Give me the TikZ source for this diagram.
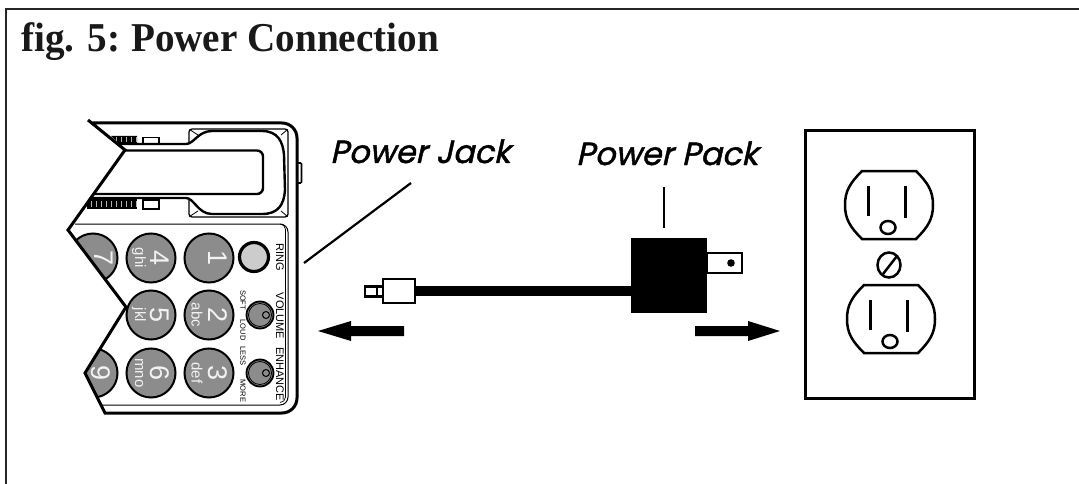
\documentclass[tikz,border=0pt]{standalone}
\usepackage{fontspec}
\setmainfont{Liberation Serif}
\setsansfont{Liberation Sans}
\newfontfamily\lblfont[FakeSlant=0.22,FakeBold=1.4]{Poppins}
\newfontfamily\titlefont[FakeStretch=0.955]{Liberation Serif Bold}
\usetikzlibrary{calc}
\definecolor{keygrey}{gray}{0.55}
\definecolor{ringgrey}{gray}{0.8}
\tikzset{
 keycap/.style={circle,draw=black,line width=2pt,fill=keygrey,minimum size=49pt,inner sep=0pt},
 keytxt/.style={rotate=-90,text=white!95!black,font=\sffamily,align=center},
 bigdigit/.style={keytxt,font=\sffamily\fontsize{27}{27}\selectfont},
 keyletters/.style={keytxt,font=\sffamily\fontsize{15}{15}\selectfont},
 small/.style={rotate=-90,inner sep=0pt,font=\sffamily\fontsize{11}{11}\selectfont},
 tiny/.style={rotate=-90,inner sep=0pt,font=\sffamily\fontsize{7.5}{7.5}\selectfont},
 callout/.style={font=\lblfont\fontsize{32}{32}\selectfont,inner sep=0pt},
 sline/.style={line width=2.2pt},
 knob/.style={circle,draw=black,line width=1.8pt,fill=keygrey,minimum size=27pt,inner sep=0pt},
}
\begin{document}
\begin{tikzpicture}[x=1pt,y=-1pt]
\useasboundingbox (0,0) rectangle (1079,484);
\fill[white] (0,0) rectangle (1079,484);
% phone inner panel
\draw[line width=1pt] (75,224) -- (280,224) arc[start angle=-90,end angle=0,radius=8] -- (288,397) arc[start angle=0,end angle=90,radius=8] -- (98,405);
\draw[line width=0.7pt] (280,224) arc[start angle=-90,end angle=0,radius=5.5] -- (285.5,397) arc[start angle=0,end angle=90,radius=5.5];
% keys
\begin{scope}
\clip (68,230) -- (126,307) -- (85,373) -- (105,413) -- (300,413) -- (300,220) -- (72,220) -- cycle;
\node[keycap] (k7) at (93,258) {};
\node[keycap] (k9) at (93,373) {};
\node[bigdigit] (t7) at (104,258) {7};
\node[bigdigit] (t9) at (101,373) {9};
\end{scope}
\foreach \n/\xx/\yy in {k1/209/258,k2/209/315,k3/209/373,k4/151/258,k5/151/315,k6/151/373}{
 \node[keycap] (\n) at (\xx,\yy) {};
}
\node[bigdigit] (t1) at (218,258) {1};
\node[bigdigit] (t2) at (218,315) {2};
\node[bigdigit] (t3) at (218,373) {3};
\node[bigdigit] (t4) at (160,258) {4};
\node[bigdigit] (t5) at (160,315) {5};
\node[bigdigit] (t6) at (160,373) {6};
\node[keyletters] (s2) at (197,315) {abc};
\node[keyletters] (s3) at (197,373) {def};
\node[keyletters] (s4) at (139,258) {ghi};
\node[keyletters] (s5) at (139,315) {jkl};
\node[keyletters] (s6) at (139,373) {mno};
% ring, knobs
\node[circle,draw=black,line width=3.2pt,fill=ringgrey,minimum size=29pt,inner sep=0pt] (ring) at (254,257) {};
\node[knob] (vol) at (260,315) {};
\node[knob] (enh) at (260,373) {};
\draw[line width=0.8pt] (260,315) circle[radius=11.5];
\draw[line width=0.8pt] (260,373) circle[radius=11.5];
\draw[line width=1pt] (266,315) circle[radius=3.5];
\draw[line width=1pt] (266,373) circle[radius=3.5];
\node[small] (lring) at (280,257) {RING};
\node[small] (lvol) at (280,316) {VOLUME};
\node[small] (lenh) at (280,374) {ENHANCE};
\node[tiny] (soft) at (243,300) {SOFT};
\node[tiny] (loud) at (243,330) {LOUD};
\node[tiny] (less) at (243,356) {LESS};
\node[tiny] (more) at (243,391) {MORE};
% top of phone: teeth and slots
\fill[black] (111,136) -- (137,136) -- (137,144) -- (119,144) -- cycle;
\foreach \xx in {116,121,...,136}{\draw[white!70!black,line width=0.5pt] (\xx,137) -- (\xx,142);}
\fill[black] (87,199) -- (137,199) -- (137,209) -- (87,209) -- cycle;
\foreach \xx in {91,96,...,136}{\draw[white!70!black,line width=0.5pt] (\xx,201) -- (\xx,207);}
\draw[line width=1.6pt] (143,137.5) rectangle (159,144);
\draw[line width=1.6pt] (143,200) rectangle (159,209);
% handset cradle
\draw[line width=1.3pt,rounded corners=3pt] (189,144) -- (189,129) -- (288,129) -- (288,217) -- (189,217) -- (189,200);
\draw[line width=0.8pt] (189.5,129.5) -- (198,135);
\draw[line width=0.8pt] (287.5,129.5) -- (281,135);
\draw[line width=0.8pt] (189.5,216.5) -- (198,211);
\draw[line width=0.8pt] (287.5,216.5) -- (281,211);
% handset
\draw[line width=2.4pt,fill=white] (116,144) -- (186,144) .. controls (194,144) and (198,131) .. (212,131) -- (262,131) .. controls (278,131) and (283,142) .. (284,155) -- (285,190) .. controls (284,205) and (278,214) .. (262,214) -- (212,214) .. controls (198,214) and (194,198) .. (186,198) -- (90,198);
\draw[line width=2.4pt,fill=white] (125,150.5) -- (257,150.5) arc[start angle=-90,end angle=0,radius=6] -- (263,188) arc[start angle=0,end angle=90,radius=6] -- (90,194);
% white mask left of the zigzag
\fill[white] (8,110) -- (88,120) -- (125,150) -- (68,230) -- (126,307) -- (85,373) -- (105,413) -- (8,420) -- cycle;
% phone outline
\draw[line width=3pt,line join=miter] (88,120) -- (125,150) -- (68,230) -- (126,307) -- (85,373) -- (105,413) -- (282,413) arc[start angle=90,end angle=0,radius=15] -- (297,138) arc[start angle=0,end angle=-90,radius=15] -- (282,123) -- (91,123);
\draw[line width=1.6pt,rounded corners=1pt] (297,163) -- (301.5,163) -- (301.5,183) -- (297,183);
% frame
\draw[line width=2pt,draw=black!85] (5.5,484) -- (5.5,9) -- (1079,9);
% title
\node[anchor=base west,inner sep=0pt,font=\titlefont\fontsize{41}{41}\selectfont,text=black!90] (title) at (21,52) {fig. 5:\kern-2pt{} Power Connection};
% power jack
\node[callout,anchor=base west] (pj) at (330,163) {Power Jack};
\coordinate (pjA) at (411,183);
\coordinate (pjB) at (304,263);
\draw[sline] (pjA) -- (pjB);
% power pack
\node[callout,anchor=base west] (pp) at (576,165) {Power Pack};
\coordinate (ppA) at (664,187);
\coordinate (ppB) at (664,228);
\draw[sline] (ppA) -- (ppB);
\node[fill=black,minimum width=76pt,minimum height=75pt,inner sep=0pt] (pack) at (669,275.5) {};
\node[draw=black,line width=2.4pt,fill=white,minimum width=35pt,minimum height=20pt,inner sep=0pt,anchor=west] (prong) at (706,263) {};
\fill (731,263) circle[radius=3.8];
% cord
\node[draw=black,line width=2.4pt,fill=white,minimum width=32pt,minimum height=24pt,inner sep=0pt] (plug) at (399,291) {};
\node[draw=black,line width=2.2pt,fill=white,minimum width=18pt,minimum height=10pt,inner sep=0pt] (tip) at (374,291.5) {};
\draw[line width=2pt] (377,287) -- (377,296);
\draw[line width=10pt] (plug.east) -- (pack.west |- plug.east);
% arrows
\fill (404,326) -- (351,326) -- (351,321) -- (318,331) -- (351,341) -- (351,336) -- (404,336) -- cycle;
\fill (695,326) -- (748,326) -- (748,321) -- (780,331) -- (748,341) -- (748,336) -- (695,336) -- cycle;
% outlet
\draw[line width=3pt] (805,131) rectangle (974,398);
\foreach \dx/\dy in {0/0,2/114}{
 \begin{scope}[shift={(\dx,\dy)}]
 \draw[line width=2.5pt] (862,171) -- (916,171) .. controls (928,183) and (933,191) .. (933,205) .. controls (933,219) and (928,227) .. (916,239) -- (862,239) .. controls (850,227) and (845,219) .. (845,205) .. controls (845,191) and (850,183) .. (862,171) -- cycle;
 \draw[line width=3.3pt] (868.5,186) -- (868.5,216);
 \draw[line width=3.3pt] (905.5,186) -- (905.5,218);
 \draw[line width=2.5pt] (888,227.5) ellipse[x radius=7.5,y radius=6.5];
 \end{scope}
}
\draw[line width=2.5pt] (889,265) ellipse[x radius=11.5,y radius=12.5];
\draw[line width=2.5pt] (883,274) -- (897,256);
\end{tikzpicture}
\end{document}
